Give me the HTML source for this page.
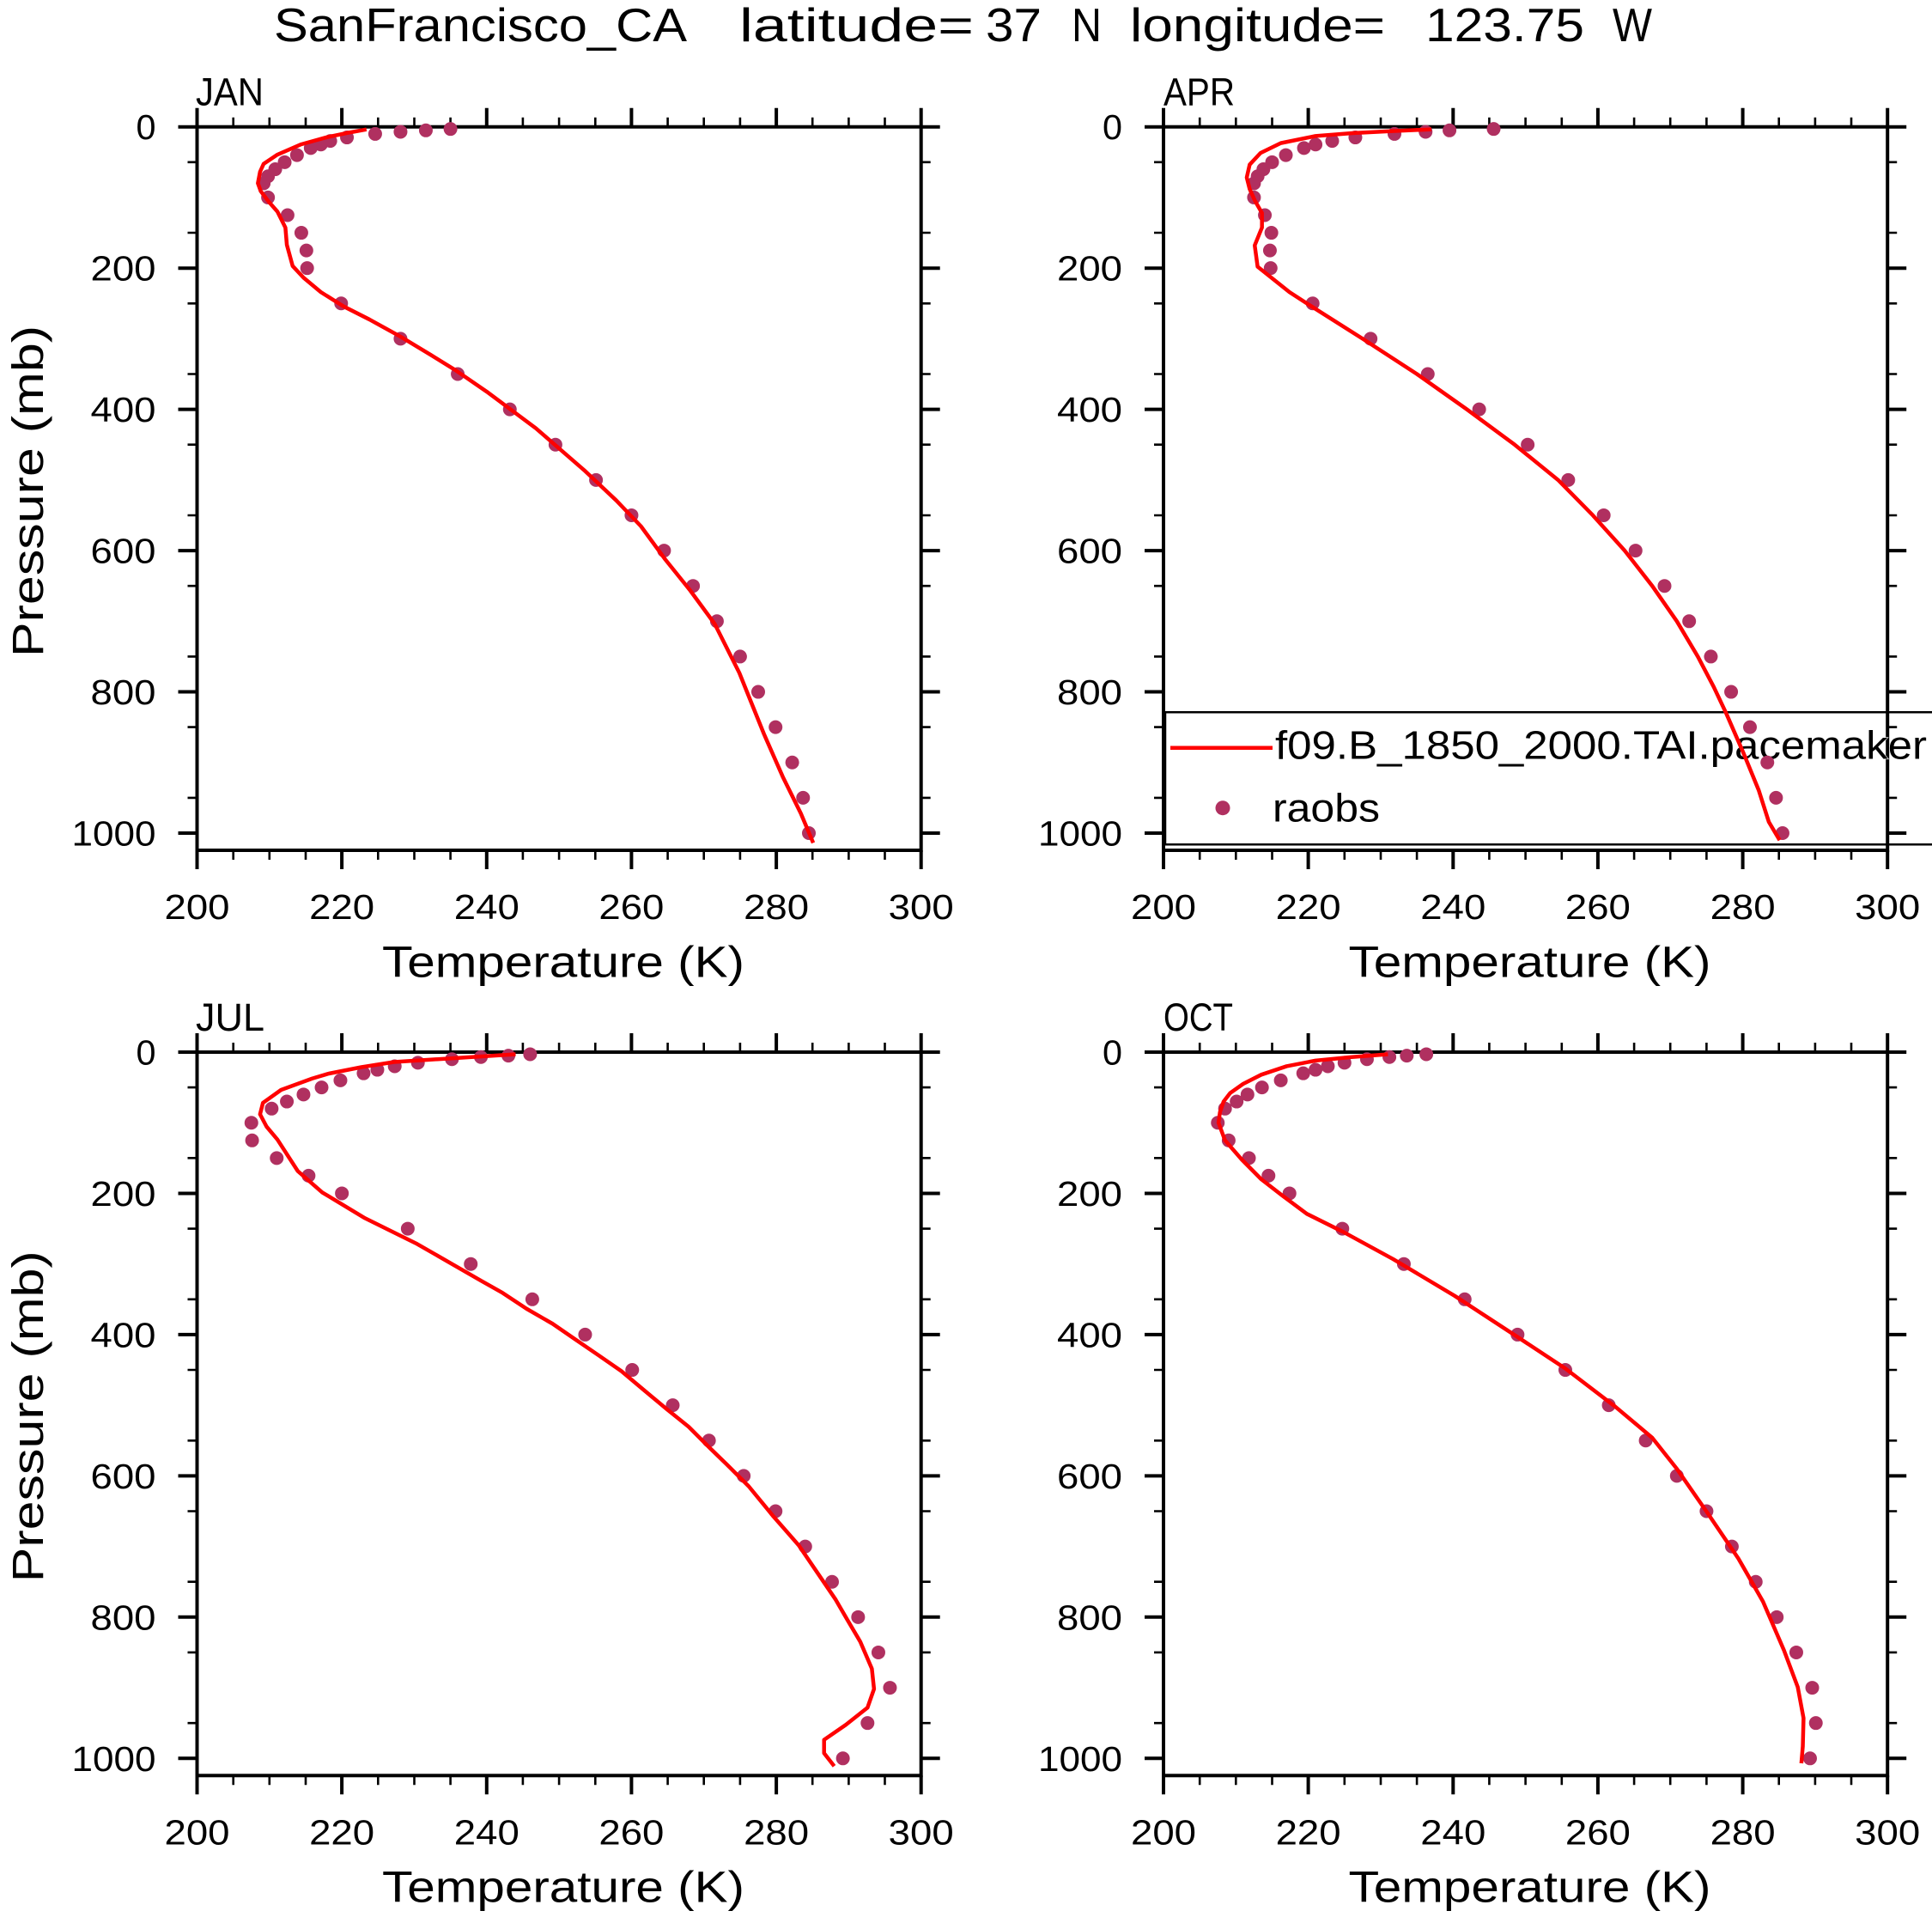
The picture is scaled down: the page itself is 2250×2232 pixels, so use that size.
<!DOCTYPE html>
<html><head><meta charset="utf-8"><style>
html,body{margin:0;padding:0;background:#fff;}
svg{display:block;}
text{font-family:"Liberation Sans",Arial,sans-serif;fill:#000;stroke:#fff;paint-order:stroke;}
.t55{stroke-width:1.6px;}
.t51{stroke-width:1.5px;}
.t46{stroke-width:1.2px;}
.t41{stroke-width:1.0px;}
</style></head><body>
<svg xmlns="http://www.w3.org/2000/svg" width="2250" height="2232" viewBox="0 0 2250 2232">
<rect width="2250" height="2232" fill="#fff"/>
<defs>
<g id="frame" fill="none" stroke="#000">
<rect x="0" y="0" width="843.2" height="842.3" stroke-width="4"/>
<path stroke-width="4" d="M-22,0H0M-22,164.5H0M-22,328.9H0M-22,493.4H0M-22,657.8H0M-22,822.3H0
M843.2,0h22M843.2,164.5h22M843.2,328.9h22M843.2,493.4h22M843.2,657.8h22M843.2,822.3h22
M0,-22V0M168.6,-22V0M337.3,-22V0M505.9,-22V0M674.6,-22V0M843.2,-22V0
M0,842.3v22M168.6,842.3v22M337.3,842.3v22M505.9,842.3v22M674.6,842.3v22M843.2,842.3v22"/>
<path stroke-width="2.6" d="M-11,41.1h11M-11,123.3h11M-11,205.6h11M-11,287.8h11M-11,370h11M-11,452.3h11M-11,534.5h11M-11,616.7h11M-11,698.9h11M-11,781.2h11
M843.2,41.1h11M843.2,123.3h11M843.2,205.6h11M843.2,287.8h11M843.2,370h11M843.2,452.3h11M843.2,534.5h11M843.2,616.7h11M843.2,698.9h11M843.2,781.2h11
M42.2,-11V0M84.3,-11V0M126.5,-11V0M210.8,-11V0M253,-11V0M295.1,-11V0M379.4,-11V0M421.6,-11V0M463.8,-11V0M548.1,-11V0M590.2,-11V0M632.4,-11V0M716.7,-11V0M758.9,-11V0M801,-11V0
M42.2,842.3v11M84.3,842.3v11M126.5,842.3v11M210.8,842.3v11M253,842.3v11M295.1,842.3v11M379.4,842.3v11M421.6,842.3v11M463.8,842.3v11M548.1,842.3v11M590.2,842.3v11M632.4,842.3v11M716.7,842.3v11M758.9,842.3v11M801,842.3v11"/>
</g>
</defs>

<!-- Title -->
<g font-size="55" class="t55">
<text class="t55" x="319" y="48" textLength="481" lengthAdjust="spacingAndGlyphs">SanFrancisco_CA</text>
<text class="t55" x="861" y="48" textLength="273" lengthAdjust="spacingAndGlyphs">latitude=</text>
<text class="t55" x="1148" y="48" textLength="65" lengthAdjust="spacingAndGlyphs">37</text>
<text class="t55" x="1248" y="48" textLength="35" lengthAdjust="spacingAndGlyphs">N</text>
<text class="t55" x="1316" y="48" textLength="297" lengthAdjust="spacingAndGlyphs">longitude=</text>
<text class="t55" x="1660" y="48" textLength="185" lengthAdjust="spacingAndGlyphs">123.75</text>
<text class="t55" x="1878" y="48" textLength="46" lengthAdjust="spacingAndGlyphs">W</text>
</g>

<!-- Frames -->
<use href="#frame" transform="translate(229.5,147.7)"/>
<use href="#frame" transform="translate(1355,147.7)"/>
<use href="#frame" transform="translate(229.5,1225)"/>
<use href="#frame" transform="translate(1355,1225)"/>

<!-- Panel labels -->
<g font-size="45">
<text class="t46" x="228" y="122.5" textLength="79" lengthAdjust="spacingAndGlyphs">JAN</text>
<text class="t46" x="1355" y="122.5" textLength="83" lengthAdjust="spacingAndGlyphs">APR</text>
<text class="t46" x="228" y="1199.8" textLength="80" lengthAdjust="spacingAndGlyphs">JUL</text>
<text class="t46" x="1355" y="1199.8" textLength="81" lengthAdjust="spacingAndGlyphs">OCT</text>
</g>

<!-- Y tick labels -->
<g font-size="41" text-anchor="end">
<text class="t41" x="181.5" y="162.2" textLength="23" lengthAdjust="spacingAndGlyphs">0</text>
<text class="t41" x="181.5" y="326.7" textLength="76" lengthAdjust="spacingAndGlyphs">200</text>
<text class="t41" x="181.5" y="491.1" textLength="76" lengthAdjust="spacingAndGlyphs">400</text>
<text class="t41" x="181.5" y="655.6" textLength="76" lengthAdjust="spacingAndGlyphs">600</text>
<text class="t41" x="181.5" y="820" textLength="76" lengthAdjust="spacingAndGlyphs">800</text>
<text class="t41" x="181.5" y="984.5" textLength="98" lengthAdjust="spacingAndGlyphs">1000</text>
<text class="t41" x="1307" y="162.2" textLength="23" lengthAdjust="spacingAndGlyphs">0</text>
<text class="t41" x="1307" y="326.7" textLength="76" lengthAdjust="spacingAndGlyphs">200</text>
<text class="t41" x="1307" y="491.1" textLength="76" lengthAdjust="spacingAndGlyphs">400</text>
<text class="t41" x="1307" y="655.6" textLength="76" lengthAdjust="spacingAndGlyphs">600</text>
<text class="t41" x="1307" y="820" textLength="76" lengthAdjust="spacingAndGlyphs">800</text>
<text class="t41" x="1307" y="984.5" textLength="98" lengthAdjust="spacingAndGlyphs">1000</text>
<text class="t41" x="181.5" y="1239.5" textLength="23" lengthAdjust="spacingAndGlyphs">0</text>
<text class="t41" x="181.5" y="1404" textLength="76" lengthAdjust="spacingAndGlyphs">200</text>
<text class="t41" x="181.5" y="1568.4" textLength="76" lengthAdjust="spacingAndGlyphs">400</text>
<text class="t41" x="181.5" y="1732.9" textLength="76" lengthAdjust="spacingAndGlyphs">600</text>
<text class="t41" x="181.5" y="1897.3" textLength="76" lengthAdjust="spacingAndGlyphs">800</text>
<text class="t41" x="181.5" y="2061.8" textLength="98" lengthAdjust="spacingAndGlyphs">1000</text>
<text class="t41" x="1307" y="1239.5" textLength="23" lengthAdjust="spacingAndGlyphs">0</text>
<text class="t41" x="1307" y="1404" textLength="76" lengthAdjust="spacingAndGlyphs">200</text>
<text class="t41" x="1307" y="1568.4" textLength="76" lengthAdjust="spacingAndGlyphs">400</text>
<text class="t41" x="1307" y="1732.9" textLength="76" lengthAdjust="spacingAndGlyphs">600</text>
<text class="t41" x="1307" y="1897.3" textLength="76" lengthAdjust="spacingAndGlyphs">800</text>
<text class="t41" x="1307" y="2061.8" textLength="98" lengthAdjust="spacingAndGlyphs">1000</text>
</g>

<!-- X tick labels -->
<g font-size="41" text-anchor="middle">
<text class="t41" x="229.5" y="1070" textLength="76" lengthAdjust="spacingAndGlyphs">200</text>
<text class="t41" x="398.1" y="1070" textLength="76" lengthAdjust="spacingAndGlyphs">220</text>
<text class="t41" x="566.8" y="1070" textLength="76" lengthAdjust="spacingAndGlyphs">240</text>
<text class="t41" x="735.4" y="1070" textLength="76" lengthAdjust="spacingAndGlyphs">260</text>
<text class="t41" x="904.1" y="1070" textLength="76" lengthAdjust="spacingAndGlyphs">280</text>
<text class="t41" x="1072.7" y="1070" textLength="76" lengthAdjust="spacingAndGlyphs">300</text>
<text class="t41" x="1355" y="1070" textLength="76" lengthAdjust="spacingAndGlyphs">200</text>
<text class="t41" x="1523.6" y="1070" textLength="76" lengthAdjust="spacingAndGlyphs">220</text>
<text class="t41" x="1692.3" y="1070" textLength="76" lengthAdjust="spacingAndGlyphs">240</text>
<text class="t41" x="1860.9" y="1070" textLength="76" lengthAdjust="spacingAndGlyphs">260</text>
<text class="t41" x="2029.6" y="1070" textLength="76" lengthAdjust="spacingAndGlyphs">280</text>
<text class="t41" x="2198.2" y="1070" textLength="76" lengthAdjust="spacingAndGlyphs">300</text>
<text class="t41" x="229.5" y="2147.3" textLength="76" lengthAdjust="spacingAndGlyphs">200</text>
<text class="t41" x="398.1" y="2147.3" textLength="76" lengthAdjust="spacingAndGlyphs">220</text>
<text class="t41" x="566.8" y="2147.3" textLength="76" lengthAdjust="spacingAndGlyphs">240</text>
<text class="t41" x="735.4" y="2147.3" textLength="76" lengthAdjust="spacingAndGlyphs">260</text>
<text class="t41" x="904.1" y="2147.3" textLength="76" lengthAdjust="spacingAndGlyphs">280</text>
<text class="t41" x="1072.7" y="2147.3" textLength="76" lengthAdjust="spacingAndGlyphs">300</text>
<text class="t41" x="1355" y="2147.3" textLength="76" lengthAdjust="spacingAndGlyphs">200</text>
<text class="t41" x="1523.6" y="2147.3" textLength="76" lengthAdjust="spacingAndGlyphs">220</text>
<text class="t41" x="1692.3" y="2147.3" textLength="76" lengthAdjust="spacingAndGlyphs">240</text>
<text class="t41" x="1860.9" y="2147.3" textLength="76" lengthAdjust="spacingAndGlyphs">260</text>
<text class="t41" x="2029.6" y="2147.3" textLength="76" lengthAdjust="spacingAndGlyphs">280</text>
<text class="t41" x="2198.2" y="2147.3" textLength="76" lengthAdjust="spacingAndGlyphs">300</text>
</g>

<!-- Axis titles -->
<g font-size="51">
<text class="t51" x="445" y="1137.3" textLength="422" lengthAdjust="spacingAndGlyphs">Temperature (K)</text>
<text class="t51" x="1570.5" y="1137.3" textLength="422" lengthAdjust="spacingAndGlyphs">Temperature (K)</text>
<text class="t51" x="445" y="2214.6" textLength="422" lengthAdjust="spacingAndGlyphs">Temperature (K)</text>
<text class="t51" x="1570.5" y="2214.6" textLength="422" lengthAdjust="spacingAndGlyphs">Temperature (K)</text>
<text class="t51" transform="translate(50,572) rotate(-90)" text-anchor="middle" textLength="386" lengthAdjust="spacingAndGlyphs">Pressure (mb)</text>
<text class="t51" transform="translate(50,1649.3) rotate(-90)" text-anchor="middle" textLength="386" lengthAdjust="spacingAndGlyphs">Pressure (mb)</text>
</g>

<!-- Legend (APR panel) -->
<path d="M1357,829.3H2250M1357,983.3H2250M1357,829.3V983.3" stroke="#000" stroke-width="2.5" fill="none"/>
<text class="t46" x="1485" y="883.3" font-size="46" textLength="759" lengthAdjust="spacingAndGlyphs">f09.B_1850_2000.TAI.pacemaker</text>
<text class="t46" x="1482" y="956.7" font-size="46" textLength="125" lengthAdjust="spacingAndGlyphs">raobs</text>
<path d="M1363,870.7H1482" stroke="#ff0000" stroke-width="4.5" fill="none"/>
<circle cx="1424" cy="940.7" r="8.5" fill="#B03060"/>

<!-- JAN -->
<g transform="translate(-1456.9,147.7) scale(8.432,0.8223)" fill="none">
<path stroke="#B03060" stroke-width="16" stroke-linecap="round" vector-effect="non-scaling-stroke" d="M235,3h.001M231.6,5h.001M228.1,7h.001M224.6,10h.001M220.7,15h.001M218.4,20h.001M217.1,25h.001M215.7,30h.001M213.8,40h.001M212.1,50h.001M210.8,60h.001M209.8,70h.001M209.2,80h.001M209.8,100h.001M212.5,125h.001M214.4,150h.001M215.1,175h.001M215.2,200h.001M219.9,250h.001M228.1,300h.001M236,350h.001M243.2,400h.001M249.5,450h.001M255.1,500h.001M260,550h.001M264.5,600h.001M268.5,650h.001M271.8,700h.001M275,750h.001M277.5,800h.001M279.9,850h.001M282.2,900h.001M283.7,950h.001M284.5,1000h.001"/>
<polyline stroke="#ff0000" stroke-width="4.5" stroke-linejoin="round" vector-effect="non-scaling-stroke" points="223.4,3.6 220.6,8.9 217.8,15 214.3,25 211.1,39.3 209.2,52.3 208.7,63.6 208.4,79.8 208.8,91.2 209.9,106 211.1,120 212.2,142.6 212.4,167 213.2,197 214.7,213.5 217.1,234 220.2,254 223.8,272.7 228.1,297 232.3,323 235.7,344.6 240,374.9 243.4,400.9 246.8,426.8 250.2,457.1 253.6,487.4 257.9,529 261.3,565.4 264.7,613 268.1,656.3 271.5,703.9 274.9,773.2 276.6,816.5 278.3,859.7 280.9,920.3 283.4,972.3 285.1,1013.9"/>
</g>

<!-- APR -->
<g transform="translate(-331.4,147.7) scale(8.432,0.8223)" fill="none">
<path stroke="#B03060" stroke-width="16" stroke-linecap="round" vector-effect="non-scaling-stroke" d="M245.6,3h.001M239.5,5h.001M236.2,7h.001M231.9,10h.001M226.5,15h.001M223.3,20h.001M221,25h.001M219.4,30h.001M216.9,40h.001M215,50h.001M213.8,60h.001M213,70h.001M212.5,80h.001M212.5,100h.001M214,125h.001M214.9,150h.001M214.7,175h.001M214.8,200h.001M220.6,250h.001M228.6,300h.001M236.5,350h.001M243.6,400h.001M250.3,450h.001M255.9,500h.001M260.8,550h.001M265.2,600h.001M269.2,650h.001M272.6,700h.001M275.6,750h.001M278.4,800h.001M281,850h.001M283.4,900h.001M284.6,950h.001M285.5,1000h.001"/>
<polyline stroke="#ff0000" stroke-width="4.5" stroke-linejoin="round" vector-effect="non-scaling-stroke" points="237,3.6 231.6,6 226.1,8.9 221,13 216.2,23 213.4,37 211.9,53.5 211.5,71.7 211.9,88 212.6,104 213.6,122 213.6,142.6 212.6,167.8 213,198 217.4,234 219.8,250 227.5,300 235,350 241.9,400 248.5,450 254.5,500 259.3,550 263.7,600 267.5,650 270.9,700 273.8,750 276,793 277.7,830 280.1,886.5 282.2,939 283.6,984 285.1,1010"/>
</g>

<!-- JUL -->
<g transform="translate(-1456.9,1225) scale(8.432,0.8223)" fill="none">
<path stroke="#B03060" stroke-width="16" stroke-linecap="round" vector-effect="non-scaling-stroke" d="M246,3h.001M243,5h.001M239.2,7h.001M235.2,10h.001M230.5,15h.001M227.3,20h.001M224.9,25h.001M223,30h.001M219.8,40h.001M217.2,50h.001M214.7,60h.001M212.4,70h.001M210.3,80h.001M207.5,100h.001M207.6,125h.001M211,150h.001M215.4,175h.001M220,200h.001M229.1,250h.001M237.8,300h.001M246.3,350h.001M253.6,400h.001M260.1,450h.001M265.7,500h.001M270.7,550h.001M275.5,600h.001M279.9,650h.001M284,700h.001M287.7,750h.001M291.3,800h.001M294.1,850h.001M295.7,900h.001M292.6,950h.001M289.2,1000h.001"/>
<polyline stroke="#ff0000" stroke-width="4.5" stroke-linejoin="round" vector-effect="non-scaling-stroke" points="244,3 236.3,8 227.2,14 222.7,21.3 218.2,30.4 215.9,37.4 211.6,53.5 209.1,71.8 208.7,88 209.6,105.5 211.1,123.8 213.9,168.3 217.3,198.7 223.2,235.2 230.4,271.7 239.2,323.5 242.2,340.9 245.5,363.3 249.1,384.6 252.2,406.5 255.4,428.9 258.6,451.6 261.7,478.4 264.9,505.7 267.9,530.5 270.8,560.3 273.2,584.2 276.2,614.9 279.5,656.2 283.1,698.3 285.8,739 288.2,775.2 289.8,803.5 291.6,834.8 293.2,873 293.5,901.8 292.6,928.2 289.6,952.5 286.6,973.7 286.6,992.6 288,1011"/>
</g>

<!-- OCT -->
<g transform="translate(-331.4,1225) scale(8.432,0.8223)" fill="none">
<path stroke="#B03060" stroke-width="16" stroke-linecap="round" vector-effect="non-scaling-stroke" d="M236.3,3h.001M233.6,5h.001M231.2,7h.001M228.1,10h.001M225,15h.001M222.7,20h.001M221,25h.001M219.3,30h.001M216.2,40h.001M213.6,50h.001M211.6,60h.001M210.1,70h.001M208.5,80h.001M207.5,100h.001M209,125h.001M211.8,150h.001M214.5,175h.001M217.4,200h.001M224.7,250h.001M233.2,300h.001M241.6,350h.001M248.9,400h.001M255.5,450h.001M261.5,500h.001M266.6,550h.001M270.9,600h.001M275,650h.001M278.5,700h.001M281.8,750h.001M284.7,800h.001M287.4,850h.001M289.6,900h.001M290.1,950h.001M289.3,1000h.001"/>
<polyline stroke="#ff0000" stroke-width="4.5" stroke-linejoin="round" vector-effect="non-scaling-stroke" points="231,3 226,7 221,12 217,20 213.5,32 211,45 209.2,58 208.3,70 207.8,85 207.6,100 208.5,125 210.8,152 213.5,180 216.4,203 219.8,229 224.9,255 231.7,293 240.2,345 248.7,402 255.5,448 262.4,502 267.5,546 270.9,590 275.1,652 279.4,717 282.8,778 285.7,847 287.6,899 288.4,943 288.3,983 288.1,1007"/>
</g>
</svg>
</body></html>
